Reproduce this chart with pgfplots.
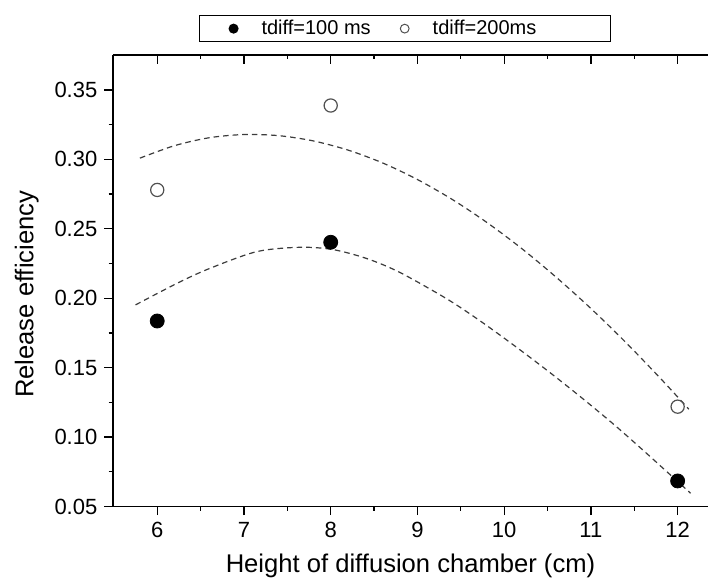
\documentclass[border=0pt]{standalone}
\usepackage{fontspec}
\setmainfont{Liberation Sans}
\usepackage{pgfplots}
\pgfplotsset{compat=1.18}

\definecolor{fitgray}{RGB}{60,60,60}
\definecolor{ringgray}{RGB}{80,80,80}

\pgfplotsset{
  common/.style={
    scale only axis,
    width=297.5pt, height=225.75pt,
    xmin=5.49, xmax=12.35,
    ymin=0.05, ymax=0.3752,
    xtick={6,7,8,9,10,11,12},
    ytick={0.05,0.10,0.15,0.20,0.25,0.30,0.35},
    minor x tick num=1, minor y tick num=1,
    major tick length=4.3pt, minor tick length=2.2pt,
    every tick/.style={black, line width=0.6pt},
    axis line style={black, line width=0.9pt},
  },
}

\begin{document}
\begin{tikzpicture}
\path[use as bounding box] (-56.5pt,-40.25pt) rectangle (297.5pt,253.25pt);

% top frame, ticks pointing in (right side is cut off in the original)
\begin{axis}[common,
  axis x line*=top, axis y line=none,
  tick align=inside,
  xticklabels={}, yticklabels={},
]
\end{axis}

\begin{axis}[common,
  axis x line*=bottom, axis y line*=left,
  tick align=outside,
  ticklabel style={font=\fontsize{11}{13}\selectfont},
  label style={font=\fontsize{12.8}{15}\selectfont},
  yticklabel style={/pgf/number format/.cd, fixed, fixed zerofill, precision=2},
  /pgf/number format/assume math mode=true,
  xlabel={Height of diffusion chamber (cm)},
  ylabel={Release efficiency},
  xlabel style={yshift=-1pt},
  ylabel style={at={(ticklabel cs:0.47)}, yshift=1pt},
  legend columns=2,
  legend style={at={(0.491,1)}, anchor=south, yshift=6.5pt,
    draw=black, line width=0.6pt, inner ysep=0pt, inner xsep=2pt,
    font=\fontsize{10}{11}\selectfont,
    /tikz/every even column/.append style={column sep=0pt}},
]
\addplot[fitgray, dash pattern=on 2.8pt off 2pt, line width=0.6pt, smooth, forget plot]
  coordinates {(5.75,0.1952)(6.23,0.2108)(6.61,0.2216)(7.15,0.2336)(7.65,0.2367)
  (8.03,0.2350)(8.42,0.2285)(8.80,0.2185)(9.34,0.1995)(9.72,0.1838)(10.11,0.1662)
  (10.50,0.1478)(10.88,0.1290)(11.27,0.1088)(11.65,0.0878)(12.15,0.0595)};
\addplot[fitgray, dash pattern=on 2.8pt off 2pt, line width=0.6pt, smooth, forget plot]
  coordinates {(5.80,0.3009)(6.20,0.3099)(6.60,0.3156)(7.00,0.3179)(7.40,0.3171)
  (7.80,0.3133)(8.20,0.3067)(8.60,0.2974)(9.00,0.2855)(9.40,0.2712)(9.80,0.2546)
  (10.20,0.2359)(10.60,0.2151)(11.00,0.1926)(11.40,0.1683)(11.80,0.1424)(12.13,0.1200)};

\addplot[only marks, mark=*, mark size=3.5pt, black,
  legend image code/.code={\path[draw=none,fill=none] (0pt,0pt) -- (27pt,0pt); \fill[black] (15pt,0pt) circle (2.2pt);}]
  coordinates {(6,0.1836)(8,0.2403)(12,0.0684)};
\addlegendentry{tdiff=100 ms}

\addplot[only marks, mark=o, mark size=3.3pt, ringgray, line width=0.6pt, mark options={fill=white},
  legend image code/.code={\path[draw=none,fill=none] (0pt,0pt) -- (27pt,0pt); \draw[ringgray, line width=0.5pt, fill=none] (15pt,0pt) circle (2.2pt);}]
  coordinates {(6,0.2780)(8,0.3388)(12,0.1219)};
\addlegendentry{\makebox[85pt][l]{tdiff=200ms}}
\end{axis}
\end{tikzpicture}
\end{document}
